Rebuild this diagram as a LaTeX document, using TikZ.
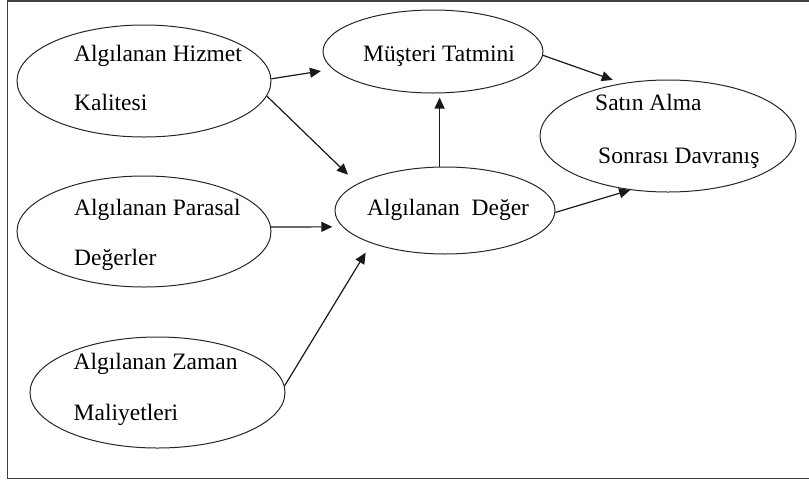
\documentclass[tikz,border=0pt]{standalone}
\usepackage{fontspec}
\setmainfont{Liberation Serif}
\usetikzlibrary{shapes.geometric,arrows.meta}
\begin{document}
\begin{tikzpicture}[x=1pt,y=-1pt,
  oval/.style={draw=black!85,line width=1pt,ellipse,inner sep=0pt},
  lbl/.style={anchor=base west,inner sep=0pt,font=\fontsize{23.5}{28}\selectfont},
  arr/.style={draw=black!90,line width=1.2pt,-{Triangle[length=11pt,width=10pt]}}]
\useasboundingbox (0,0) rectangle (809,483);
% outer frame (open on the right)
\begin{scope}
  \clip (0,0) rectangle (809,483);
  \draw[line width=1.6pt,black!75] (7.5,1) rectangle (830,478.5);
\end{scope}

% constructs
\node[oval,minimum width=254pt,minimum height=112pt] (hizmet)   at (144,81)    {};
\node[oval,minimum width=254pt,minimum height=111pt] (parasal)  at (144,231.5) {};
\node[oval,minimum width=255pt,minimum height=111pt] (zaman)    at (157.5,392.5) {};
\node[oval,minimum width=220pt,minimum height=83pt]  (tatmin)   at (433,51.5)  {};
\node[oval,minimum width=220pt,minimum height=87pt]  (deger)    at (445,210.5) {};
\node[oval,minimum width=256pt,minimum height=112pt] (davranis) at (668,136)   {};

% labels
\node[lbl] (t1a) at (74,61.7)  {Algılanan Hizmet};
\node[lbl] (t1b) at (74,110)   {Kalitesi};
\node[lbl] (t2a) at (74,215)   {Algılanan Parasal};
\node[lbl] (t2b) at (74,265)   {Değerler};
\node[lbl] (t3a) at (73.5,369.3) {Algılanan Zaman};
\node[lbl] (t3b) at (73.5,420)   {Maliyetleri};
\node[lbl] (t4)  at (363,61.7) {Müşteri Tatmini};
\node[lbl] (t5)  at (367,215)  {Algılanan\ \ Değer};
\node[lbl] (t6a) at (595,110.5) {Satın Alma};
\node[lbl] (t6b) at (598,163)   {Sonrası Davranış};

% relations
\draw[arr,shorten >=12pt] (hizmet.1)   -- (tatmin.190);
\draw[arr,shorten >=13pt] (hizmet.353) -- (deger.163);
\draw[arr,shorten >=10pt] (parasal.2)  -- (deger.189);
\draw[arr,shorten >=11pt] (zaman.3)    -- (deger.204);
\draw[arr,shorten >=4pt]  (deger.97)   -- (deger.97 |- tatmin.south);
\draw[arr,shorten >=10pt] (tatmin.358) -- (davranis.131);
\draw[arr]                (deger.359)  -- (davranis.235);
\end{tikzpicture}
\end{document}
